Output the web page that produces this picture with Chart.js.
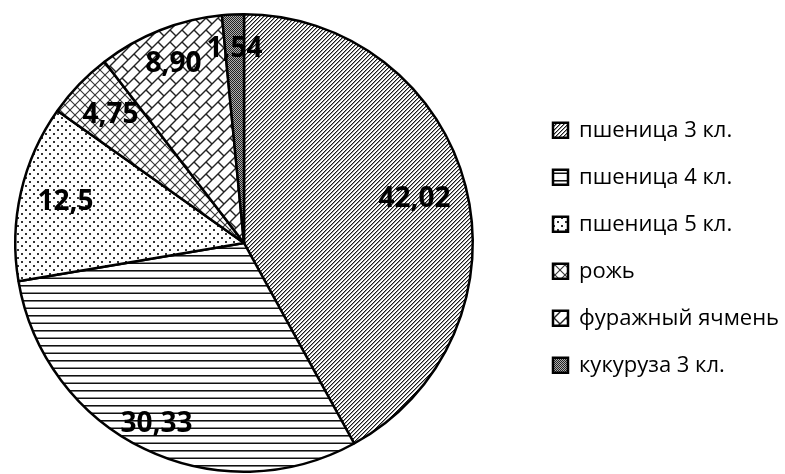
<!DOCTYPE html>
<html>
<head>
<meta charset="utf-8">
<script src="https://cdn.jsdelivr.net/npm/chart.js@4"></script>
<style>
  html, body { margin: 0; padding: 0; background: #fff; }
  #wrap { width: 785px; height: 474px; overflow: hidden; position: relative; }
  #pie { position: absolute; left: -40px; top: 0; }
</style>
</head>
<body>
<div id="wrap"><canvas id="pie" width="825" height="474"></canvas></div>
<script>
const labels = ["пшеница 3 кл.", "пшеница 4 кл.", "пшеница 5 кл.", "рожь", "фуражный ячмень", "кукуруза 3 кл."];
const values = [42.02, 30.33, 12.5, 4.75, 8.90, 1.54];
const valueText = ["42,02", "30,33", "12,5", "4,75", "8,90", "1,54"];

// hatch tiles, like the excel pattern fills
function tile(w, h, draw) {
  const c = document.createElement("canvas");
  c.width = w; c.height = h;
  const g = c.getContext("2d");
  g.fillStyle = "#fff";
  g.fillRect(0, 0, w, h);
  draw(g, w, h);
  return document.createElement("canvas").getContext("2d").createPattern(c, "repeat");
}
function px(g, x, y, col) { g.fillStyle = col; g.fillRect(x, y, 1, 1); }
function wrapLine(g, T, x1, y1, x2, y2) {
  for (let dx = -T; dx <= T; dx += T) {
    for (let dy = -T; dy <= T; dy += T) {
      g.beginPath(); g.moveTo(x1 + dx, y1 + dy); g.lineTo(x2 + dx, y2 + dy); g.stroke();
    }
  }
}

const patDiag = tile(4, 4, (g) => {
  for (let y = 0; y < 4; y++) {
    px(g, (3 - y + 4) % 4, y, "#1a1a1a");
    px(g, (4 - y) % 4, y, "#9a9a9a");
  }
});
const patHorz = tile(4, 15, (g) => {
  for (let x = 0; x < 4; x++) {
    px(g, x, 0, "#111"); px(g, x, 1, "#777");
    px(g, x, 7, "#888"); px(g, x, 8, "#111");
  }
});
const patDots = tile(8, 8, (g) => {
  g.fillStyle = "#333";
  g.fillRect(1, 1, 2, 2);
  g.fillRect(5, 5, 2, 2);
});
const patDiamond = tile(10, 10, (g, T) => {
  g.strokeStyle = "#333"; g.lineWidth = 1.1;
  wrapLine(g, T, 0, 0, T, T);
  wrapLine(g, T, 0, T, T, 0);
});
const patBrick = tile(12, 12, (g, T) => {
  g.strokeStyle = "#222"; g.lineWidth = 1.4;
  wrapLine(g, T, 0, T, T, 0);
  wrapLine(g, T, 6, 6, 12, 12);
});
const patChecker = tile(2, 2, (g) => {
  px(g, 0, 0, "#222"); px(g, 1, 1, "#222");
  px(g, 1, 0, "#b0b0b0"); px(g, 0, 1, "#b0b0b0");
});
const fills = [patDiag, patHorz, patDots, patDiamond, patBrick, patChecker];

// canvas is 40px wider and shifted left so the pie can sit at x=243
const shift = 40;
const canvasW = 785 + shift;
const legendFont = 22;
const legendPad = 25;
const boxSize = 15;
const meas = document.createElement("canvas").getContext("2d");
meas.font = legendFont + 'px "Open Sans"';
const textW = Math.max(...labels.map(t => meas.measureText(t).width));
const legendLeft = 553 + shift - legendPad;
const legendW = 10 + legendPad + boxSize + legendFont / 2 + textW;
const padRight = canvasW - legendLeft - legendW;
const padLeft = 2 * (243 + shift) - legendLeft;

const labelRadius = [0.77, 0.88, 0.80, 0.81, 0.84, 0.85];

const sliceLabels = {
  id: "sliceLabels",
  afterDatasetsDraw(chart) {
    const ctx = chart.ctx;
    const arcs = chart.getDatasetMeta(0).data;
    ctx.save();
    ctx.font = 'bold 28px "Open Sans"';
    ctx.fillStyle = "#000";
    ctx.textAlign = "center";
    ctx.textBaseline = "middle";
    arcs.forEach((arc, i) => {
      const p = arc.getProps(["x", "y", "startAngle", "endAngle", "outerRadius"], true);
      const mid = (p.startAngle + p.endAngle) / 2;
      const r = p.outerRadius * labelRadius[i];
      ctx.fillText(valueText[i], p.x + Math.cos(mid) * r, p.y + Math.sin(mid) * r);
    });
    ctx.restore();
  }
};

Chart.defaults.color = "#000";

new Chart(document.getElementById("pie"), {
  type: "pie",
  data: {
    labels: labels,
    datasets: [{
      data: values,
      backgroundColor: fills,
      borderColor: "#000",
      borderWidth: 2.5
    }]
  },
  options: {
    responsive: false,
    animation: false,
    layout: { padding: { left: padLeft, right: padRight, top: 13, bottom: 1 } },
    plugins: {
      tooltip: { enabled: false },
      legend: {
        position: "right",
        align: "center",
        title: { display: true, text: " ", padding: 0, font: { size: 8 } },
        labels: {
          font: { family: "Open Sans", size: legendFont },
          color: "#000",
          boxWidth: boxSize,
          boxHeight: boxSize,
          padding: legendPad
        }
      }
    }
  },
  plugins: [sliceLabels]
});
</script>
</body>
</html>
